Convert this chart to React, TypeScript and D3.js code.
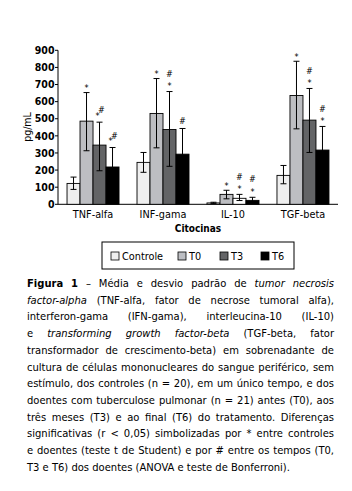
import React, { useMemo } from 'react';
import * as d3 from 'd3';

// dados (pg/mL)
const categories = ['TNF-alfa', 'INF-gama', 'IL-10', 'TGF-beta'];
const series = ['Controle', 'T0', 'T3', 'T6'];
const colors = ['#efefef', '#bdbec2', '#636466', '#000000'];

const means = [
  [122, 486, 346, 218],
  [245, 531, 437, 293],
  [8, 58, 35, 23],
  [169, 636, 492, 317],
];
const errUp = [
  [159, 653, 480, 332],
  [303, 735, 659, 443],
  [12, 82, 58, 41],
  [227, 836, 677, 455],
];
const errDown = [
  [87, 313, 196, 104],
  [187, 330, 222, 143],
  [4, 32, 22, 10],
  [120, 441, 303, 175],
];
// simbolos de significancia
const marks = [
  ['', '*', '*#', '*#'],
  ['', '*', '*#', '#'],
  ['', '*', '*#', '*#'],
  ['', '*', '*#', '*#'],
];
const sideBySide = [true, false, false, false];
const yTicks = [0, 100, 200, 300, 400, 500, 600, 700, 800, 900];

type Seg = { t: string; s?: 'b' | 'i' };
const captionLines: Seg[][] = [
  [{ t: 'Figura 1', s: 'b' }, { t: '– Média e desvio padrão de' }, { t: 'tumor necrosis', s: 'i' }],
  [{ t: 'factor-alpha', s: 'i' }, { t: '(TNF-alfa, fator de necrose tumoral alfa),' }],
  [{ t: 'interferon-gama (IFN-gama), interleucina-10 (IL-10)' }],
  [{ t: 'e' }, { t: 'transforming growth factor-beta', s: 'i' }, { t: '(TGF-beta, fator' }],
  [{ t: 'transformador de crescimento-beta) em sobrenadante de' }],
  [{ t: 'cultura de células mononucleares do sangue periférico, sem' }],
  [{ t: 'estímulo, dos controles (n = 20), em um único tempo, e dos' }],
  [{ t: 'doentes com tuberculose pulmonar (n = 21) antes (T0), aos' }],
  [{ t: 'três meses (T3) e ao final (T6) do tratamento. Diferenças' }],
  [{ t: 'significativas (r < 0,05) simbolizadas por * entre controles' }],
  [{ t: 'e doentes (teste t de Student) e por # entre os tempos (T0,' }],
  [{ t: 'T3 e T6) dos doentes (ANOVA e teste de Bonferroni).' }],
];

const capFont = "'DejaVu Sans Condensed', 'Liberation Sans Narrow', sans-serif";
const capSize = 11.1;
const chartFont = "'Liberation Sans Narrow', 'DejaVu Sans Condensed', sans-serif";

function layoutCaption(left: number, right: number) {
  const ctx = document.createElement('canvas').getContext('2d')!;
  const out: { x: number; line: number; t: string; s?: string }[] = [];
  captionLines.forEach((line, li) => {
    const words: { t: string; s?: string; w: number }[] = [];
    line.forEach(seg => {
      seg.t.split(' ').forEach(w => {
        const style = seg.s === 'b' ? 'bold ' : seg.s === 'i' ? 'italic ' : '';
        ctx.font = `${style}${capSize}px ${capFont}`;
        words.push({ t: w, s: seg.s, w: ctx.measureText(w).width });
      });
    });
    const total = d3.sum(words, w => w.w);
    const last = li === captionLines.length - 1;
    ctx.font = `${capSize}px ${capFont}`;
    const space = ctx.measureText(' ').width;
    const gap = last ? space : (right - left - total) / (words.length - 1);
    let x = left;
    words.forEach(w => {
      out.push({ x, line: li, t: w.t, s: w.s });
      x += w.w + gap;
    });
  });
  return out;
}

export default function App() {
  const width = 352;
  const height = 491;
  const y0 = 204.3;
  const y = d3.scaleLinear().domain([0, 900]).range([y0, 50.3]);
  const x = d3.scaleBand().domain(categories).range([58, 338]).paddingInner(0.257).paddingOuter(0.129);
  const xs = d3.scaleBand().domain(series).range([0, x.bandwidth()]);

  const caption = useMemo(() => layoutCaption(27, 334), []);

  return (
    <svg width={width} height={height} style={{ position: 'absolute', left: 0, top: 0, background: '#fff' }}>
      {/* eixo y */}
      <g fontFamily={chartFont} fontSize={10.5} fontWeight="bold">
        <line x1={58} x2={58} y1={y(900)} y2={y0} stroke="#000" />
        {yTicks.map(t => (
          <g key={t}>
            <line x1={55} x2={58} y1={y(t)} y2={y(t)} stroke="#000" />
            <text x={54.5} y={y(t)} dy="0.35em" textAnchor="end">{t}</text>
          </g>
        ))}
        <line x1={58} x2={338} y1={y0} y2={y0} stroke="#000" />
      </g>
      <text transform={`translate(31,127) rotate(-90)`} textAnchor="middle" fontFamily={capFont} fontSize={10.5}>pg/mL</text>

      {/* barras */}
      {categories.map((c, ci) => (
        <g key={c} transform={`translate(${x(c)},0)`}>
          {series.map((s, si) => {
            const bx = xs(s)!;
            const bw = xs.bandwidth();
            const cx = bx + bw / 2;
            const fill = c === 'IL-10' && s === 'T3' ? '#ffffff' : colors[si];
            const m = marks[ci][si];
            const top = y(errUp[ci][si]);
            return (
              <g key={s}>
                <rect x={bx} y={y(means[ci][si])} width={bw} height={y0 - y(means[ci][si])} fill={fill} stroke="#000" strokeWidth={0.9} />
                <line x1={cx} x2={cx} y1={y(errUp[ci][si])} y2={y(errDown[ci][si])} stroke="#000" strokeWidth={1} />
                <line x1={cx - 3} x2={cx + 3} y1={y(errUp[ci][si])} y2={y(errUp[ci][si])} stroke="#000" />
                <line x1={cx - 3} x2={cx + 3} y1={y(errDown[ci][si])} y2={y(errDown[ci][si])} stroke="#000" />
                <g fontFamily={chartFont} fontSize={9} textAnchor="middle">
                  {m === '*' && <text x={cx} y={top - 8} dy="0.75em">*</text>}
                  {m === '#' && <text x={cx} y={top - 8} dy="0.35em">#</text>}
                  {m === '*#' && sideBySide[ci] && (
                    <>
                      <text x={cx - 2} y={top - 10} dy="0.75em">*</text>
                      <text x={cx + 2} y={top - 12} dy="0.35em">#</text>
                    </>
                  )}
                  {m === '*#' && !sideBySide[ci] && (
                    <>
                      <text x={cx} y={top - 9} dy="0.75em">*</text>
                      <text x={cx} y={top - 18} dy="0.35em">#</text>
                    </>
                  )}
                </g>
              </g>
            );
          })}
          <text x={x.bandwidth() / 2} y={218} textAnchor="middle" fontFamily={capFont} fontSize={10.8}>{c}</text>
        </g>
      ))}
      <text x={198} y={232} textAnchor="middle" fontFamily={capFont} fontSize={10} fontWeight="bold">Citocinas</text>

      {/* legenda */}
      <rect x={102} y={242} width={192} height={27} fill="none" stroke="#000" strokeWidth={1} />
      {series.map((s, si) => {
        const lx = [111, 178, 220, 261][si];
        return (
          <g key={s}>
            <rect x={lx} y={252} width={8} height={8} fill={colors[si]} stroke="#000" strokeWidth={0.8} />
            <text x={lx + 11} y={256} dy="0.35em" fontFamily={capFont} fontSize={10.8}>{s}</text>
          </g>
        );
      })}

      {/* legenda da figura */}
      <g fontFamily={capFont} fontSize={capSize}>
        {caption.map((w, i) => (
          <text key={i} x={w.x} y={287 + w.line * 16.7}
            fontWeight={w.s === 'b' ? 'bold' : 'normal'} fontStyle={w.s === 'i' ? 'italic' : 'normal'}>{w.t}</text>
        ))}
      </g>
    </svg>
  );
}
